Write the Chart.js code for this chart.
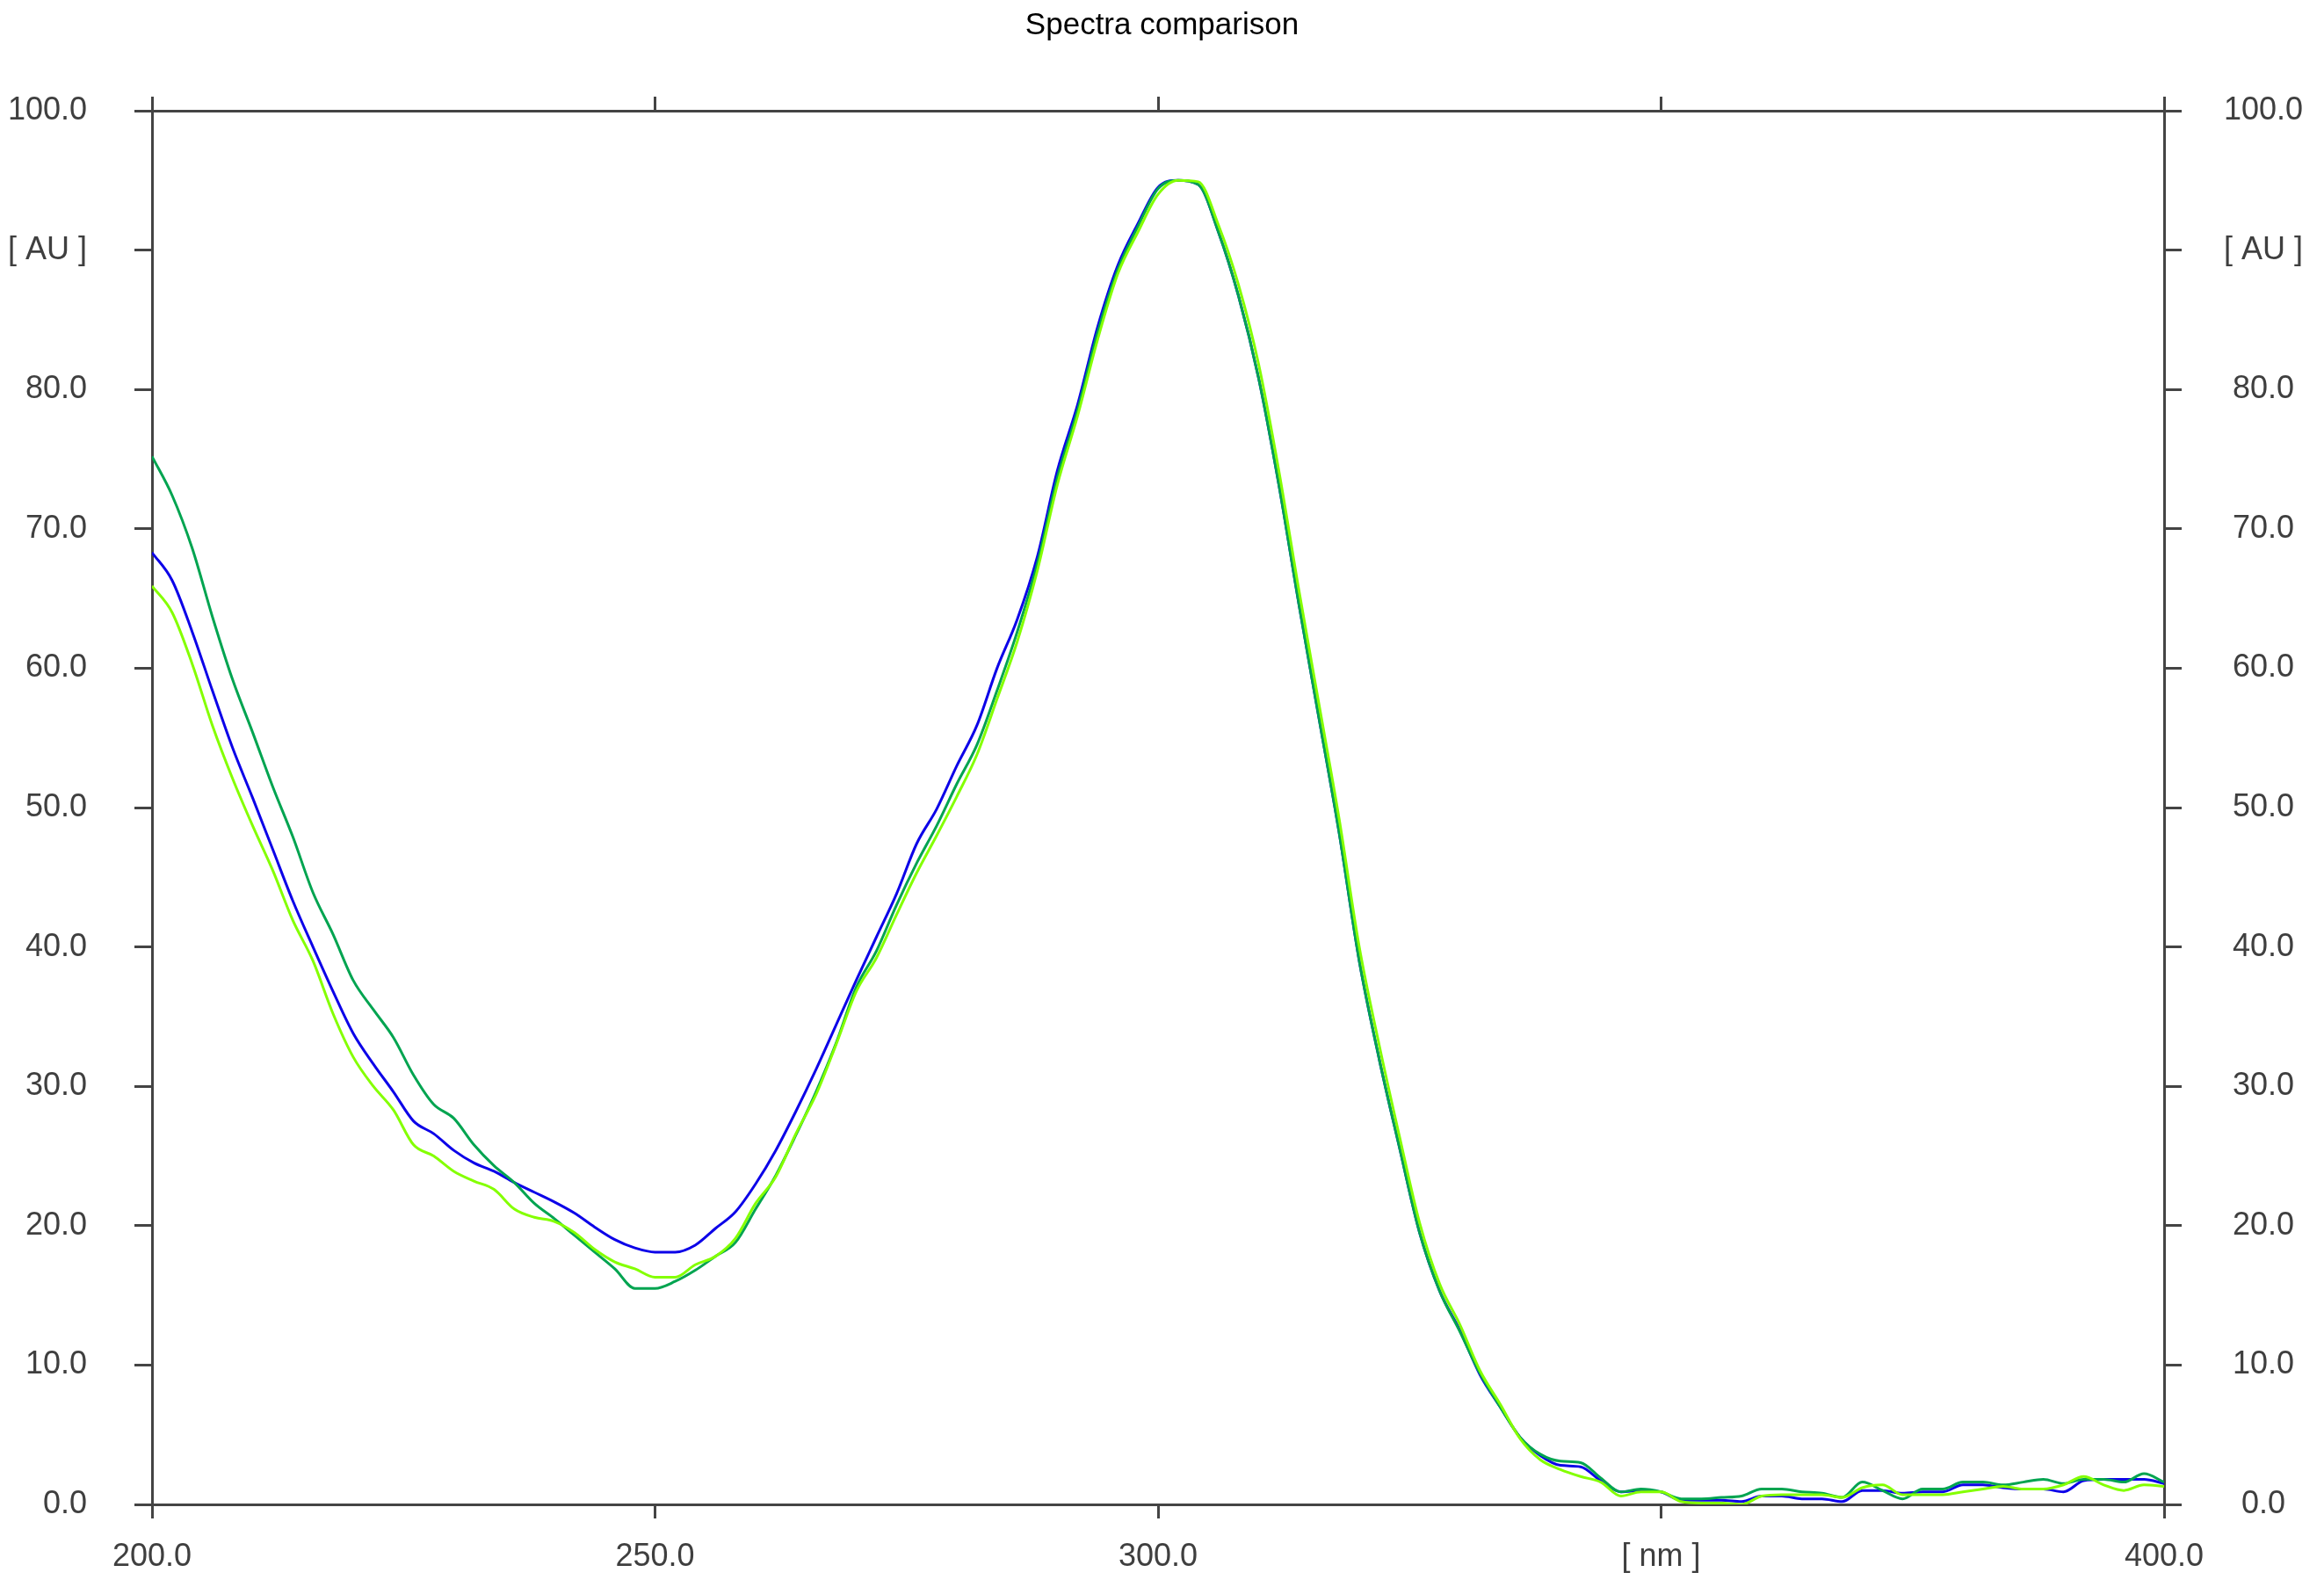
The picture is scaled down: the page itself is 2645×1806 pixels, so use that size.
<!DOCTYPE html>
<html>
<head>
<meta charset="utf-8">
<title>Spectra comparison</title>
<script src="https://cdn.jsdelivr.net/npm/chart.js@4.4.1/dist/chart.umd.min.js"></script>
<style>
  html, body { margin: 0; padding: 0; background: #fff; }
  #wrap { width: 2645px; height: 1806px; }
</style>
</head>
<body>
<div id="wrap"><canvas id="spectra" width="2645" height="1806"></canvas></div>
<script>
// ── DATA ──────────────────────────────────────────────────────────────────────
const wavelengths = [
  200, 202, 204, 206, 208, 210, 212, 214, 216, 218,
  220, 222, 224, 226, 228, 230, 232, 234, 236, 238,
  240, 242, 244, 246, 248, 250, 252, 254, 256, 258,
  260, 262, 264, 266, 268, 270, 272, 274, 276, 278,
  280, 282, 284, 286, 288, 290, 292, 294, 296, 298,
  300, 302, 304, 306, 308, 310, 312, 314, 316, 318,
  320, 322, 324, 326, 328, 330, 332, 334, 336, 338,
  340, 342, 344, 346, 348, 350, 352, 354, 356, 358,
  360, 362, 364, 366, 368, 370, 372, 374, 376, 378,
  380, 382, 384, 386, 388, 390, 392, 394, 396, 398,
  400
];

const spectrumBlue = [
  68.3, 66.3, 62.6, 58.4, 54.3, 50.7, 47.0, 43.3, 40.0, 36.8,
  33.8, 31.6, 29.6, 27.5, 26.6, 25.4, 24.5, 23.9, 23.1, 22.4,
  21.7, 20.9, 19.9, 19.0, 18.4, 18.1, 18.1, 18.6, 19.8, 21.0,
  23.0, 25.4, 28.2, 31.2, 34.4, 37.6, 40.7, 43.8, 47.4, 49.9,
  53.0, 55.9, 60.0, 63.5, 68.0, 74.2, 78.9, 84.5, 88.9, 91.9,
  94.5, 95.0, 94.7, 91.3, 86.7, 80.8, 73.2, 64.6, 56.4, 48.2,
  39.0, 31.9, 25.6, 19.5, 15.3, 12.5, 9.3, 7.0, 4.8, 3.5,
  2.8, 2.7, 1.7, 0.9, 1.0, 0.9, 0.3, 0.3, 0.3, 0.2,
  0.6, 0.6, 0.4, 0.4, 0.2, 1.0, 1.0, 0.8, 0.9, 0.9,
  1.4, 1.4, 1.2, 1.1, 1.1, 0.9, 1.7, 1.8, 1.8, 1.8,
  1.5
];

const spectrumDarkGreen = [
  75.2, 72.4, 68.6, 63.7, 59.2, 55.4, 51.5, 47.9, 43.9, 40.9,
  37.6, 35.5, 33.5, 30.8, 28.7, 27.7, 25.8, 24.3, 23.1, 21.6,
  20.5, 19.3, 18.1, 16.9, 15.5, 15.5, 16.0, 16.8, 17.8, 18.8,
  21.2, 23.6, 26.5, 29.6, 33.1, 37.1, 39.7, 43.0, 46.0, 48.7,
  51.7, 54.5, 58.4, 62.6, 67.5, 73.7, 78.5, 84.1, 88.6, 91.7,
  94.4, 95.0, 94.7, 91.3, 86.7, 80.8, 73.2, 64.6, 56.4, 48.2,
  39.0, 31.9, 25.6, 19.5, 15.3, 12.4, 9.4, 7.0, 4.8, 3.6,
  3.1, 3.0, 1.9, 0.9, 1.1, 0.9, 0.4, 0.4, 0.5, 0.6,
  1.1, 1.1, 0.9, 0.8, 0.5, 1.6, 1.0, 0.4, 1.1, 1.1,
  1.6, 1.6, 1.4, 1.6, 1.8, 1.5, 1.8, 1.8, 1.6, 2.2,
  1.6
];

const spectrumLightGreen = [
  65.9, 64.0, 60.3, 55.9, 52.1, 48.7, 45.5, 41.9, 39.0, 35.2,
  32.1, 30.0, 28.3, 25.8, 25.0, 23.9, 23.2, 22.6, 21.2, 20.6,
  20.3, 19.5, 18.3, 17.4, 16.9, 16.3, 16.3, 17.2, 17.8, 19.1,
  21.6, 23.5, 26.6, 29.4, 33.0, 36.8, 39.2, 42.3, 45.3, 48.0,
  50.8, 53.8, 57.8, 61.9, 67.0, 73.2, 78.1, 83.6, 88.3, 91.3,
  94.0, 95.0, 94.9, 91.8, 87.5, 81.8, 74.2, 65.6, 57.4, 49.2,
  40.0, 32.9, 26.4, 20.2, 15.8, 12.9, 9.6, 7.2, 4.7, 3.2,
  2.5, 2.0, 1.6, 0.6, 0.9, 0.9, 0.2, 0.1, 0.1, 0.0,
  0.6, 0.7, 0.7, 0.7, 0.5, 1.2, 1.4, 0.7, 0.7, 0.7,
  0.9, 1.1, 1.3, 1.1, 1.1, 1.4, 2.0, 1.4, 1.0, 1.4,
  1.3
];

const xTickValues = [200, 250, 300, 350, 400];
const xTickLabels = ['200.0', '250.0', '300.0', '[ nm ]', '400.0'];
const yTickValues = [0, 10, 20, 30, 40, 50, 60, 70, 80, 90, 100];
const yTickLabels = ['0.0', '10.0', '20.0', '30.0', '40.0', '50.0', '60.0', '70.0', '80.0', '[ AU ]', '100.0'];

// ── HELPERS ───────────────────────────────────────────────────────────────────
const AXIS_COLOR = '#444444';
const LABEL_COLOR = '#3f3f3f';
const FONT = "'Liberation Sans', Arial, sans-serif";

const toPoints = values => wavelengths.map((w, i) => ({ x: w, y: values[i] }));

function frame(tickLength) {
  return {
    grid: {
      drawOnChartArea: false,
      drawTicks: true,
      tickLength: tickLength,
      color: AXIS_COLOR,
      lineWidth: 3
    },
    border: { display: true, color: AXIS_COLOR, width: 3 }
  };
}

function spectrum(label, values, color) {
  return {
    label: label,
    data: toPoints(values),
    borderColor: color,
    borderWidth: 3,
    pointRadius: 0,
    cubicInterpolationMode: 'monotone',
    xAxisID: 'x',
    yAxisID: 'y'
  };
}

const xTicksFrom = scale => { scale.ticks = xTickValues.map(v => ({ value: v })); };
const yTicksFrom = scale => { scale.ticks = yTickValues.map(v => ({ value: v })); };

// ── CHART ─────────────────────────────────────────────────────────────────────
Chart.defaults.font.family = FONT;

const ctx = document.getElementById('spectra').getContext('2d');
new Chart(ctx, {
  type: 'line',
  data: {
    // first dataset is painted last, so the light green one sits on top
    datasets: [
      spectrum('Spectrum 3', spectrumLightGreen, '#84ff00'),
      spectrum('Spectrum 2', spectrumDarkGreen, '#00a450'),
      spectrum('Spectrum 1', spectrumBlue, '#0c00e8')
    ]
  },
  options: {
    responsive: false,
    devicePixelRatio: 1,
    animation: false,
    layout: { padding: 0 },
    plugins: {
      legend: { display: false },
      tooltip: { enabled: false },
      title: {
        display: true,
        text: 'Spectra comparison',
        color: '#000000',
        font: { family: FONT, size: 35, weight: 'normal' },
        padding: { top: 8, bottom: 4 }
      }
    },
    scales: {
      x: {
        type: 'linear',
        position: 'bottom',
        min: 200,
        max: 400,
        afterBuildTicks: xTicksFrom,
        afterFit: s => { s.height = 94; },
        ...frame(16),
        ticks: {
          color: LABEL_COLOR,
          font: { size: 36 },
          padding: 22,
          maxRotation: 0,
          autoSkip: false,
          callback: (v, i) => xTickLabels[i]
        }
      },
      xTop: {
        type: 'linear',
        position: 'top',
        min: 200,
        max: 400,
        afterBuildTicks: xTicksFrom,
        afterFit: s => { s.height = 72; },
        ...frame(16),
        ticks: { display: false }
      },
      y: {
        type: 'linear',
        position: 'left',
        min: 0,
        max: 100,
        afterBuildTicks: yTicksFrom,
        afterFit: s => { s.width = 173; },
        ...frame(20),
        ticks: {
          color: LABEL_COLOR,
          font: { size: 36 },
          padding: 54,
          autoSkip: false,
          callback: (v, i) => yTickLabels[i]
        }
      },
      yRight: {
        type: 'linear',
        position: 'right',
        min: 0,
        max: 100,
        afterBuildTicks: yTicksFrom,
        afterFit: s => { s.width = 182; },
        ...frame(20),
        ticks: {
          color: LABEL_COLOR,
          font: { size: 36 },
          padding: 48,
          crossAlign: 'center',
          autoSkip: false,
          callback: (v, i) => yTickLabels[i]
        }
      }
    }
  }
});
</script>
</body>
</html>
